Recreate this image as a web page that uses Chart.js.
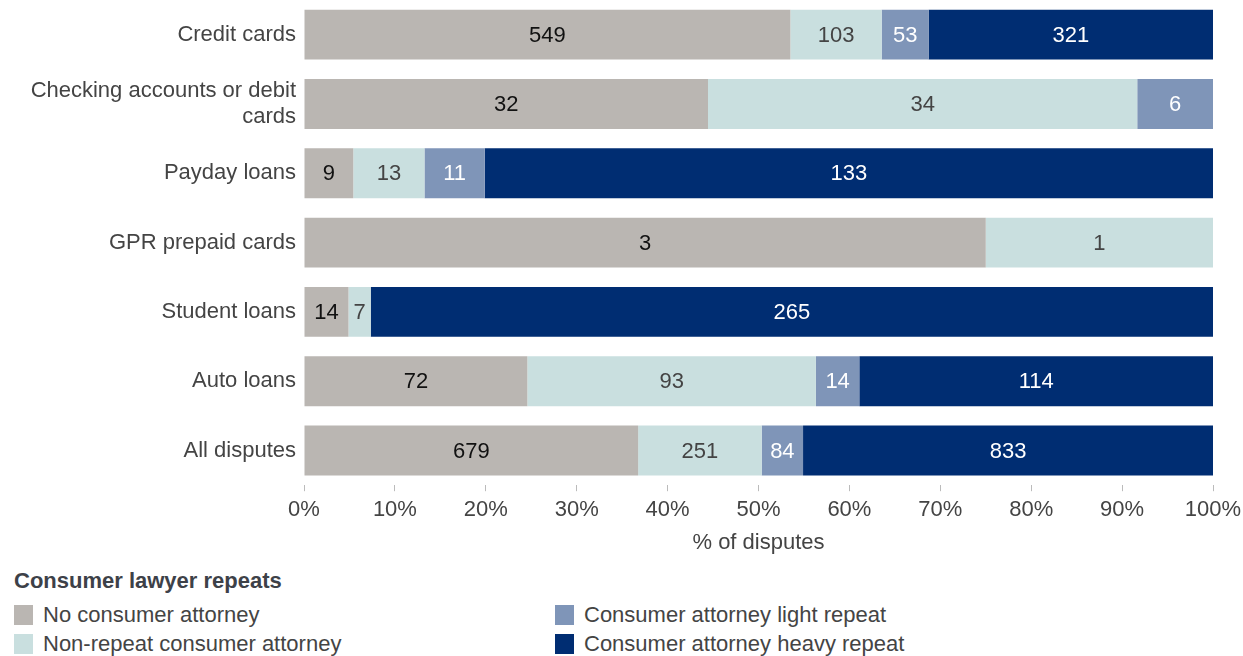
<!DOCTYPE html>
<html>
<head>
<meta charset="utf-8">
<script src="https://cdn.jsdelivr.net/npm/chart.js@4.4.1/dist/chart.umd.min.js"></script>
<style>
  body { margin: 0; background: #fff; font-family: "Liberation Sans", Arial, sans-serif; }
  #wrap { position: relative; width: 1243px; height: 656px; }
  #box { position: absolute; left: 0; top: 0; width: 1243px; height: 556px; }
  #legend { position: absolute; left: 14px; top: 568px; color: #444; font-size: 22px; }
  #legend .title { font-weight: bold; color: #3d4148; margin-bottom: 6px; }
  #legend .items { display: grid; grid-auto-flow: column; grid-template-rows: repeat(2, 29px); grid-template-columns: 541px 400px; }
  #legend .item { display: flex; align-items: center; }
  #legend .sw { width: 19px; height: 20px; margin-right: 10px; }
</style>
</head>
<body>
<div id="wrap">
  <div id="box"><canvas id="grafico"></canvas></div>
  <div id="legend"></div>
</div>
<script>
const categories = [
    'Credit cards',
    ['Checking accounts or debit', 'cards'],
    'Payday loans',
    'GPR prepaid cards',
    'Student loans',
    'Auto loans',
    'All disputes'
];

// cantidades por grupo (las etiquetas de cada barra)
const noAttorney   = [549, 32, 9, 3, 14, 72, 679];
const nonRepeat    = [103, 34, 13, 1, 7, 93, 251];
const lightRepeat  = [53, 6, 11, 0, 0, 14, 84];
const heavyRepeat  = [321, 0, 133, 0, 265, 114, 833];

const seriesNames = [
    'No consumer attorney',
    'Non-repeat consumer attorney',
    'Consumer attorney light repeat',
    'Consumer attorney heavy repeat'
];
const colors = ['#bab6b2', '#c9dfdf', '#7f95b8', '#002d72'];
const labelColors = ['#111111', '#444444', '#ffffff', '#ffffff'];
const xTicks = [0, 10, 20, 30, 40, 50, 60, 70, 80, 90, 100];

const counts = [noAttorney, nonRepeat, lightRepeat, heavyRepeat];
const totals = categories.map((c, j) => counts.reduce((s, arr) => s + arr[j], 0));

const data = {
    labels: categories,
    datasets: counts.map((arr, i) => ({
        label: seriesNames[i],
        backgroundColor: colors[i],
        data: arr.map((v, j) => v / totals[j] * 100),
        barPercentage: 0.72,
        categoryPercentage: 1
    }))
};

// etiquetas con la cantidad en el medio de cada segmento
const barLabels = {
    id: 'barLabels',
    afterDatasetsDraw(chart) {
        const ctx = chart.ctx;
        ctx.save();
        ctx.font = '22px "Liberation Sans", Arial, sans-serif';
        ctx.textAlign = 'center';
        ctx.textBaseline = 'middle';
        chart.data.datasets.forEach((ds, i) => {
            chart.getDatasetMeta(i).data.forEach((bar, j) => {
                const n = counts[i][j];
                if (!n) return;
                ctx.fillStyle = labelColors[i];
                ctx.fillText(String(n), (bar.x + bar.base) / 2, bar.y + 1);
            });
        });
        ctx.restore();
    }
};

const config = {
    type: 'bar',
    data: data,
    plugins: [barLabels],
    options: {
        indexAxis: 'y',
        responsive: true,
        maintainAspectRatio: false,
        animation: false,
        layout: { padding: { left: 0, right: 30, top: 0, bottom: 0 } },
        plugins: {
            legend: { display: false },
            tooltip: { enabled: false }
        },
        scales: {
            x: {
                stacked: true,
                min: 0,
                max: 100,
                afterBuildTicks: (scale) => { scale.ticks = xTicks.map(v => ({ value: v })); },
                afterFit: (scale) => { scale.paddingLeft = 0; scale.paddingRight = 0; },
                border: { display: false },
                grid: { drawOnChartArea: false, color: '#bbbbbb', tickLength: 6 },
                ticks: {
                    color: '#444',
                    padding: 6,
                    font: { size: 22, family: '"Liberation Sans", Arial, sans-serif' },
                    callback: function(value) {
                        return value + '%';
                    }
                },
                title: {
                    display: true,
                    text: '% of disputes',
                    color: '#444',
                    padding: { top: 0, bottom: 0 },
                    font: { size: 22, family: '"Liberation Sans", Arial, sans-serif' }
                }
            },
            y: {
                stacked: true,
                afterFit: (scale) => { scale.width = 304; scale.paddingTop = 0; scale.paddingBottom = 0; },
                border: { display: false },
                grid: { display: false, drawTicks: false },
                ticks: {
                    color: '#444',
                    padding: 8,
                    font: { size: 22, lineHeight: 1.18, family: '"Liberation Sans", Arial, sans-serif' }
                }
            }
        }
    }
};

const myChart = new Chart(document.getElementById('grafico'), config);

// leyenda en html (dos columnas)
const legend = document.getElementById('legend');
let html = '<div class="title">Consumer lawyer repeats</div><div class="items">';
seriesNames.forEach((name, i) => {
    html += '<div class="item"><span class="sw" style="background:' + colors[i] + '"></span>' + name + '</div>';
});
html += '</div>';
legend.innerHTML = html;
</script>
</body>
</html>
